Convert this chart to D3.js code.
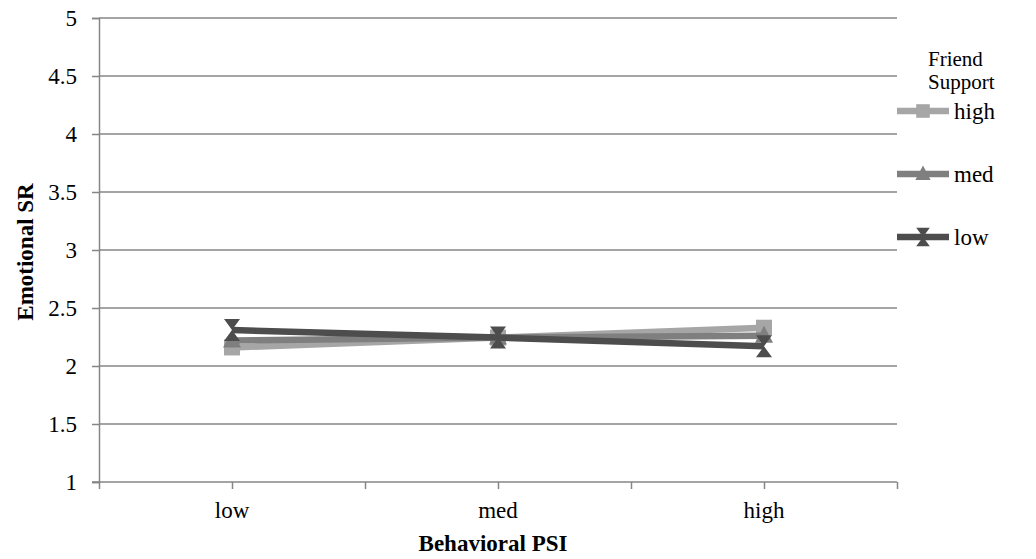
<!DOCTYPE html>
<html>
<head>
<script src="https://d3js.org/d3.v7.min.js"></script>
<style>
  body { margin: 0; background: #fff; }
</style>
</head>
<body>
<svg width="1036" height="559"></svg>
<script>
var categories = ["low", "med", "high"];
var yTicks = [1, 1.5, 2, 2.5, 3, 3.5, 4, 4.5, 5];
var seriesNames = ["high", "med", "low"];
var highValues = [2.16, 2.245, 2.33];
var medValues = [2.22, 2.245, 2.26];
var lowValues = [2.31, 2.245, 2.17];

var series = [
  { name: "high", values: highValues, color: "#a6a6a6", marker: "square" },
  { name: "med", values: medValues, color: "#7f7f7f", marker: "triangle" },
  { name: "low", values: lowValues, color: "#4d4d4d", marker: "hourglass" }
];

var serif = "'Times New Roman', 'Liberation Serif', serif";
var svg = d3.select("svg").attr("font-family", serif);
var plotLeft = 99, plotRight = 897, plotTop = 18, plotBottom = 482;
var axisColor = "#868686";
var fontSize = 23;

var x = d3.scaleBand().domain(categories).range([plotLeft, plotRight]);
var y = d3.scaleLinear().domain([1, 5]).range([plotBottom, plotTop]);
var halfStep = x.bandwidth() / 2;

// gridlines
svg.append("g").selectAll("line")
  .data(yTicks.slice(1))
  .enter().append("line")
  .attr("x1", plotLeft).attr("x2", plotRight)
  .attr("y1", function(d) { return y(d); })
  .attr("y2", function(d) { return y(d); })
  .attr("stroke", axisColor).attr("stroke-width", 1.5);

// y axis
var yAxis = d3.axisLeft(y).tickValues(yTicks).tickSize(7).tickPadding(15)
  .tickFormat(function(d) { return d; });
var gy = svg.append("g").attr("transform", "translate(" + plotLeft + ",0)").call(yAxis);
gy.attr("font-family", serif);
gy.select(".domain").attr("stroke", axisColor).attr("stroke-width", 1.5);
gy.selectAll(".tick line").attr("stroke", axisColor).attr("stroke-width", 1.5);
gy.selectAll(".tick text").attr("font-size", fontSize).attr("fill", "#000")
  .attr("font-family", serif);

// x axis: ticks at band edges and centers
var xTickPos = d3.range(0, 7).map(function(i) { return plotLeft + i * halfStep; });
var xLin = d3.scaleLinear().domain([plotLeft, plotRight]).range([plotLeft, plotRight]);
var gx = svg.append("g").attr("transform", "translate(0," + plotBottom + ")")
  .call(d3.axisBottom(xLin).tickValues(xTickPos).tickSize(7).tickFormat(""));
gx.select(".domain").attr("stroke", axisColor).attr("stroke-width", 1.5)
  .attr("d", "M" + (plotLeft - 7) + ",0H" + plotRight);
gx.selectAll(".tick line").attr("stroke", axisColor).attr("stroke-width", 1.5);

svg.append("g").selectAll("text")
  .data(categories)
  .enter().append("text")
  .attr("x", function(d) { return x(d) + halfStep; })
  .attr("y", 518)
  .attr("text-anchor", "middle")
  .attr("font-family", serif)
  .attr("font-size", fontSize)
  .text(function(d) { return d; });

// axis titles
svg.append("text")
  .attr("x", 493).attr("y", 551)
  .attr("text-anchor", "middle")
  .attr("font-family", serif)
  .attr("font-size", fontSize).attr("font-weight", "bold")
  .text("Behavioral PSI");

svg.append("text")
  .attr("transform", "translate(33,252) rotate(-90)")
  .attr("text-anchor", "middle")
  .attr("font-family", serif)
  .attr("font-size", fontSize).attr("font-weight", "bold")
  .text("Emotional SR");

function markerPath(type) {
  if (type === "square") return "M-8,-8H8V8H-8Z";
  if (type === "triangle") return "M0,-10L9,7H-9Z";
  return "M-8,-11H8L0,0L8,11H-8L0,0Z";
}

var line = d3.line()
  .x(function(d, i) { return x(categories[i]) + halfStep; })
  .y(function(d) { return y(d); });

series.forEach(function(s) {
  var g = svg.append("g");
  g.append("path")
    .attr("d", line(s.values))
    .attr("fill", "none")
    .attr("stroke", s.color)
    .attr("stroke-width", 6.5)
    .attr("stroke-linejoin", "round");
  g.selectAll("path.m")
    .data(s.values)
    .enter().append("path")
    .attr("class", "m")
    .attr("transform", function(d, i) {
      return "translate(" + (x(categories[i]) + halfStep) + "," + y(d) + ")";
    })
    .attr("d", markerPath(s.marker))
    .attr("fill", s.color);
});

// legend
var legend = svg.append("g").attr("font-family", serif);
legend.append("text").attr("x", 928).attr("y", 66).attr("font-size", 21)
  .attr("font-family", serif).text("Friend");
legend.append("text").attr("x", 928).attr("y", 89).attr("font-size", 21)
  .attr("font-family", serif).text("Support");

var legY = d3.scalePoint().domain(seriesNames).range([111, 237]);
series.forEach(function(s) {
  var ly = legY(s.name);
  legend.append("line")
    .attr("x1", 897).attr("x2", 949)
    .attr("y1", ly).attr("y2", ly)
    .attr("stroke", s.color).attr("stroke-width", 6.5);
  legend.append("path")
    .attr("transform", "translate(923," + ly + ") scale(0.85)")
    .attr("d", markerPath(s.marker))
    .attr("fill", s.color);
  legend.append("text")
    .attr("x", 954).attr("y", ly + 8)
    .attr("font-family", serif)
    .attr("font-size", fontSize)
    .text(s.name);
});
</script>
</body>
</html>
